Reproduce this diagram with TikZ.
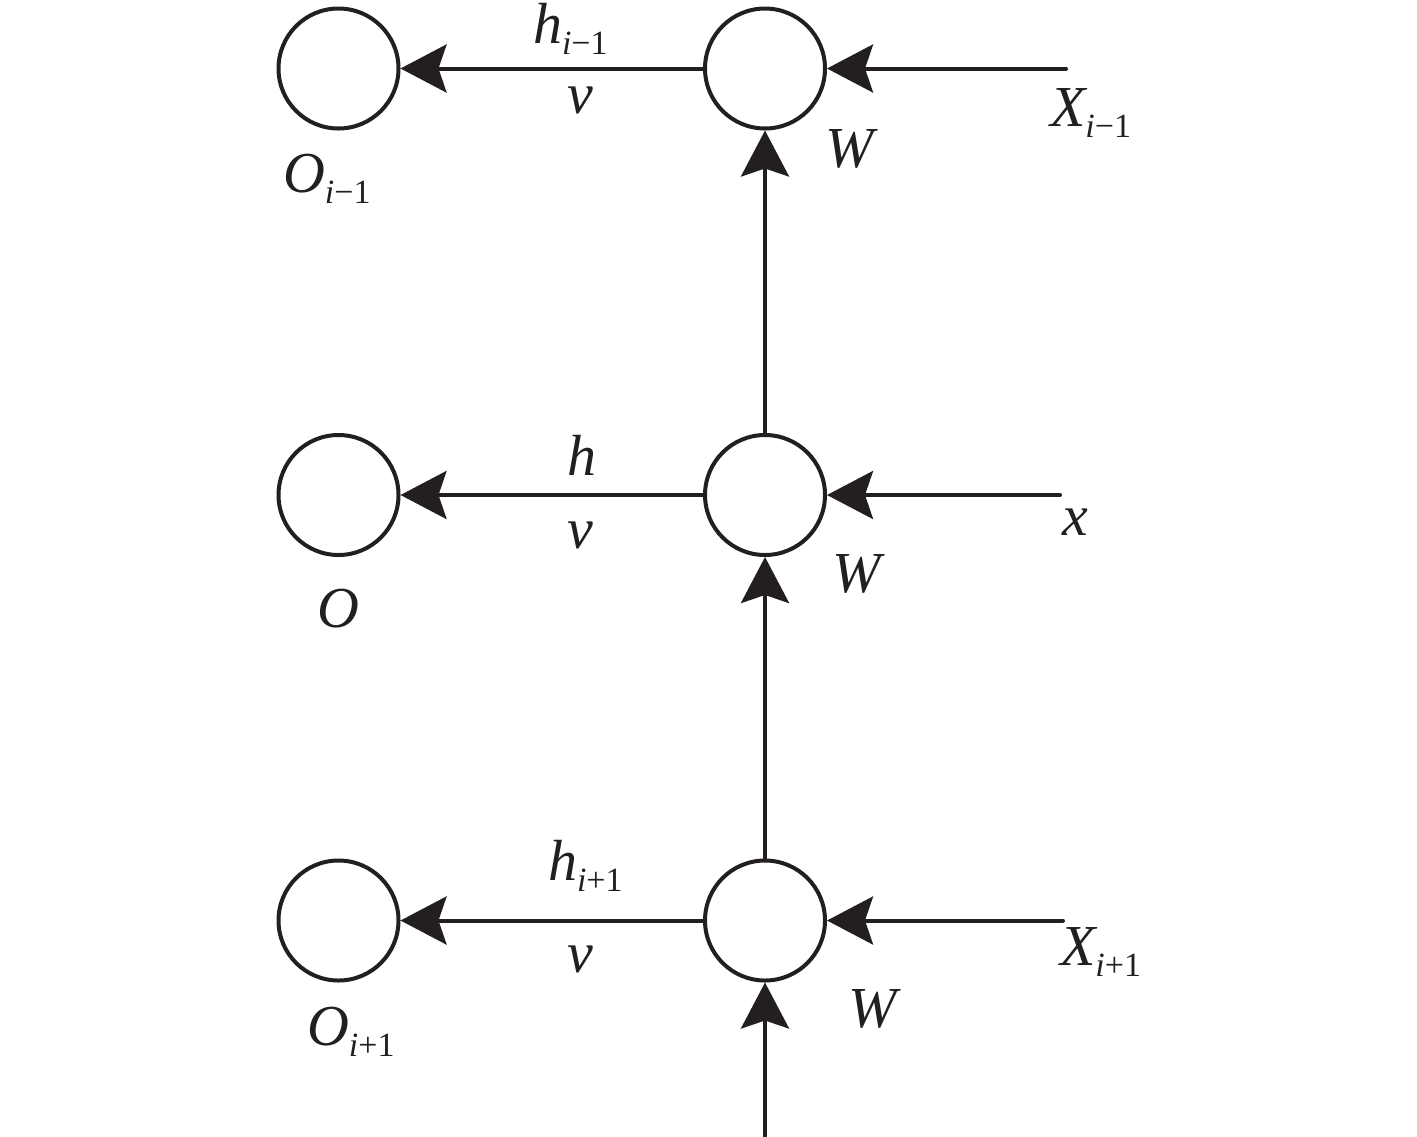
\documentclass[tikz,border=0pt]{standalone}
\usepackage{fontspec}
\setmainfont{Liberation Serif}
\usetikzlibrary{arrows.meta}
\definecolor{ink}{HTML}{231F20}
\newcommand{\sbs}[1]{\raisebox{-5.5pt}{\fontsize{17}{17}\selectfont #1}}
\begin{document}
\begin{tikzpicture}[x=0.5pt,y=-0.5pt,
  unit/.style={circle, draw=ink, minimum size=60pt, inner sep=0pt, line width=2pt},
  conn/.style={draw=ink, line width=2pt, line cap=round, -{Stealth[length=23pt,width=24pt,inset=4pt]}},
  lab/.style={anchor=base west, inner sep=0pt, outer sep=0pt, font=\fontsize{29}{29}\selectfont\itshape, text=ink}]
\useasboundingbox (0,0) rectangle (1417,1136);
% units
\node[unit] (o1) at (338.5,68.5) {};
\node[unit] (h1) at (765,68.5) {};
\node[unit] (o2) at (338.5,495) {};
\node[unit] (h2) at (765,495) {};
\node[unit] (o3) at (338.5,920.5) {};
\node[unit] (h3) at (765,920.5) {};
\coordinate (x1) at (1066,68.5);
\coordinate (x2) at (1060,495);
\coordinate (x3) at (1063,920.5);
\coordinate (bot) at (765,1136);
% connectors
\draw[conn] (h1) -- (o1);
\draw[conn] (h2) -- (o2);
\draw[conn] (h3) -- (o3);
\draw[conn] (x1) -- (h1);
\draw[conn] (x2) -- (h2);
\draw[conn] (x3) -- (h3);
\draw[conn] (h2) -- (h1);
\draw[conn] (h3) -- (h2);
\draw[conn] (bot) -- (h3);
% labels top row
\node[lab, text height=18pt] (lh1) at (533,43) {h\sbs{i\upshape −1}};
\node[lab] (lv1) at (567,113) {v};
\node[lab] (lo1) at (283,192) {O\sbs{i\upshape −1}};
\node[lab] (lw1) at (825,167) {W};
\node[lab] (lx1) at (1050,126) {X\sbs{i\upshape −1}};
% labels middle row
\node[lab] (lh2) at (567,475) {h};
\node[lab] (lv2) at (567,548) {v};
\node[lab] (lo2) at (317,627) {O};
\node[lab] (lw2) at (832,592) {W};
\node[lab] (lx2) at (1062,535) {x};
% labels bottom row
\node[lab] (lh3) at (548,880) {h\sbs{i\upshape +1}};
\node[lab] (lv3) at (567,972) {v};
\node[lab] (lo3) at (307,1045) {O\sbs{i\upshape +1}};
\node[lab] (lw3) at (848,1027) {W};
\node[lab] (lx3) at (1060,965) {X\sbs{i\upshape +1}};
\end{tikzpicture}
\end{document}
